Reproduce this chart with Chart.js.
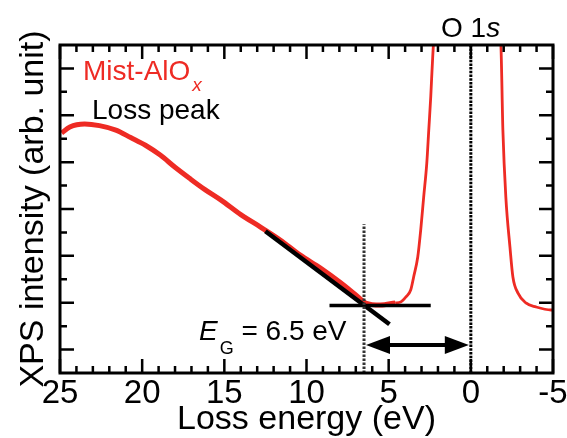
<!DOCTYPE html>
<html>
<head>
<meta charset="utf-8">
<script src="https://cdn.jsdelivr.net/npm/chart.js@4.4.1/dist/chart.umd.min.js"></script>
<style>
html,body{margin:0;padding:0;background:#fff;}
#c{display:block;}
</style>
</head>
<body>
<canvas id="c" width="567" height="438"></canvas>
<script>
// ---- data ----
const lossEnergy = [24.9, 24.4, 23.5, 22.6, 21.6, 20.7, 19.8, 18.9, 18.0, 17.1, 16.2, 15.2, 14.0, 12.8, 11.6, 10.4, 9.15, 7.9, 7.0, 6.4, 5.5, 4.6, 4.27, 3.96, 3.66, 3.48, 3.23, 3.05, 2.87, 2.68, 2.56, 2.44, 2.32, 2.2, -1.71, -1.83, -1.95, -2.13, -2.38, -2.56, -2.87, -3.35, -3.96, -4.88, -5.0];
const xpsIntensity = [10.24, 10.50, 10.63, 10.56, 10.37, 10.05, 9.72, 9.30, 8.78, 8.30, 7.84, 7.38, 6.76, 6.23, 5.68, 5.04, 4.48, 3.84, 3.33, 2.99, 2.90, 2.99, 3.03, 3.24, 3.54, 4.10, 4.95, 6.10, 7.51, 8.96, 10.37, 11.78, 13.49, 14.6, 14.6, 14.0, 10.37, 7.51, 5.38, 4.10, 3.41, 2.99, 2.82, 2.69, 2.69];
const tangentE = [12.5, 4.95];
const tangentI = [6.05, 2.08];
const baselineE = [8.6, 2.44];
const baselineI = [2.88, 2.88];
const gapEdgeE = [6.5, 6.5];
const gapEdgeI = [0, 6.35];
const coreE = [0, 0];
const coreI = [0, 14];
const arrowE = [6.5, 0];
const arrowI = [1.2, 1.2];
const xTickLabels = [25, 20, 15, 10, 5, 0, -5];

const FONT = '"Liberation Sans", Arial, Helvetica, sans-serif';
const RED = '#ee2b24';
Chart.defaults.font.family = FONT;

const pts = (xs, ys) => xs.map((x, i) => ({x: x, y: ys[i]}));

const framePlugin = {
  id: 'frame',
  afterDraw(chart) {
    const ctx = chart.ctx;
    const a = chart.chartArea;
    const xs = chart.scales.x, ys = chart.scales.y;
    ctx.save();
    // inward ticks
    ctx.strokeStyle = '#000';
    ctx.lineWidth = 2.5;
    ctx.beginPath();
    for (let v = -5; v <= 25; v++) {
      const px = xs.getPixelForValue(v);
      const len = (v % 5 === 0) ? 14 : 7;
      ctx.moveTo(px, a.bottom); ctx.lineTo(px, a.bottom - len);
      ctx.moveTo(px, a.top); ctx.lineTo(px, a.top + len);
    }
    for (let v = 1; v <= 13; v++) {
      const py = ys.getPixelForValue(v);
      const len = (v % 2 === 1) ? 14 : 7;
      ctx.moveTo(a.left, py); ctx.lineTo(a.left + len, py);
      ctx.moveTo(a.right, py); ctx.lineTo(a.right - len, py);
    }
    ctx.stroke();
    // frame
    ctx.lineWidth = 3;
    ctx.strokeRect(a.left, a.top, a.right - a.left, a.bottom - a.top);

    // double arrow
    const x1 = xs.getPixelForValue(arrowE[0]) + 2;
    const x2 = xs.getPixelForValue(arrowE[1]) - 2;
    const y = ys.getPixelForValue(arrowI[0]);
    const hl = 24, hw = 9;
    ctx.lineWidth = 4;
    ctx.beginPath();
    ctx.moveTo(x1 + hl - 2, y); ctx.lineTo(x2 - hl + 2, y);
    ctx.stroke();
    ctx.fillStyle = '#000';
    ctx.beginPath();
    ctx.moveTo(x1, y); ctx.lineTo(x1 + hl, y - hw); ctx.lineTo(x1 + hl, y + hw); ctx.closePath();
    ctx.fill();
    ctx.beginPath();
    ctx.moveTo(x2, y); ctx.lineTo(x2 - hl, y - hw); ctx.lineTo(x2 - hl, y + hw); ctx.closePath();
    ctx.fill();

    // annotations
    ctx.textBaseline = 'alphabetic';
    ctx.textAlign = 'left';
    // Mist-AlOx
    ctx.fillStyle = RED;
    ctx.font = '28px ' + FONT;
    ctx.fillText('Mist-AlO', 83, 80);
    let w = ctx.measureText('Mist-AlO').width;
    ctx.font = 'italic 19px ' + FONT;
    ctx.fillText('x', 83 + w + 2, 91);
    // Loss peak
    ctx.fillStyle = '#000';
    ctx.font = '28px ' + FONT;
    ctx.fillText('Loss peak', 92, 119);
    // O 1s
    ctx.font = '28px ' + FONT;
    ctx.fillText('O 1', 441, 37);
    w = ctx.measureText('O 1').width;
    ctx.font = 'italic 28px ' + FONT;
    ctx.fillText('s', 441 + w, 37);
    // E_G = 6.5 eV
    ctx.font = 'italic 28px ' + FONT;
    ctx.fillText('E', 199, 340);
    w = ctx.measureText('E').width;
    ctx.font = '18px ' + FONT;
    ctx.fillText('G', 199 + w + 2, 354);
    const wg = ctx.measureText('G').width;
    ctx.font = '28px ' + FONT;
    ctx.fillText(' = 6.5 eV', 199 + w + 2 + wg, 340);
    ctx.restore();
  }
};

new Chart(document.getElementById('c'), {
  type: 'scatter',
  data: {
    datasets: [
      {
        label: 'Mist-AlOx',
        data: pts(lossEnergy, xpsIntensity),
        showLine: true,
        borderColor: RED,
        borderWidth: 3,
        pointRadius: 0,
        cubicInterpolationMode: 'monotone',
        clip: 0,
        order: 5,
        segment: {
          borderWidth: c => (c.p0.parsed.x > 5.2 ? 5 : 2.8)
        }
      },
      {
        label: 'tangent',
        data: pts(tangentE, tangentI),
        showLine: true, borderColor: '#000', borderWidth: 4.5, pointRadius: 0, order: 3
      },
      {
        label: 'baseline',
        data: pts(baselineE, baselineI),
        showLine: true, borderColor: '#000', borderWidth: 3.5, pointRadius: 0, order: 3
      },
      {
        label: 'gap edge',
        data: pts(gapEdgeE, gapEdgeI),
        showLine: true, borderColor: '#333', borderWidth: 3, borderDash: [2.5, 1.5], pointRadius: 0, order: 1
      },
      {
        label: 'O 1s',
        data: pts(coreE, coreI),
        showLine: true, borderColor: '#000', borderWidth: 3, borderDash: [2.5, 1.2], pointRadius: 0, order: 1
      }
    ]
  },
  options: {
    responsive: false,
    animation: false,
    events: [],
    layout: {padding: {left: 0, right: 14, top: 45, bottom: 0}},
    plugins: {legend: {display: false}, tooltip: {enabled: false}},
    scales: {
      x: {
        type: 'linear', reverse: true, min: -5, max: 25,
        afterBuildTicks: s => { s.ticks = xTickLabels.map(v => ({value: v})); },
        ticks: {color: '#000', font: {size: 33}, padding: 1, maxRotation: 0, autoSkip: false},
        grid: {display: false, drawTicks: false},
        border: {display: false},
        title: {display: true, text: 'Loss energy (eV)', color: '#000', font: {size: 34}, padding: {top: 0, bottom: -2}},
        afterFit: s => { s.height = 65; s.paddingLeft = 0; s.paddingRight = 0; }
      },
      y: {
        type: 'linear', min: 0, max: 14,
        ticks: {display: false, stepSize: 1},
        grid: {display: false, drawTicks: false},
        border: {display: false},
        title: {display: true, text: 'XPS intensity (arb. unit)', color: '#000', font: {size: 34}, padding: {top: 13}},
        afterFit: s => { s.width = 60; }
      }
    }
  },
  plugins: [framePlugin]
});
</script>
</body>
</html>
